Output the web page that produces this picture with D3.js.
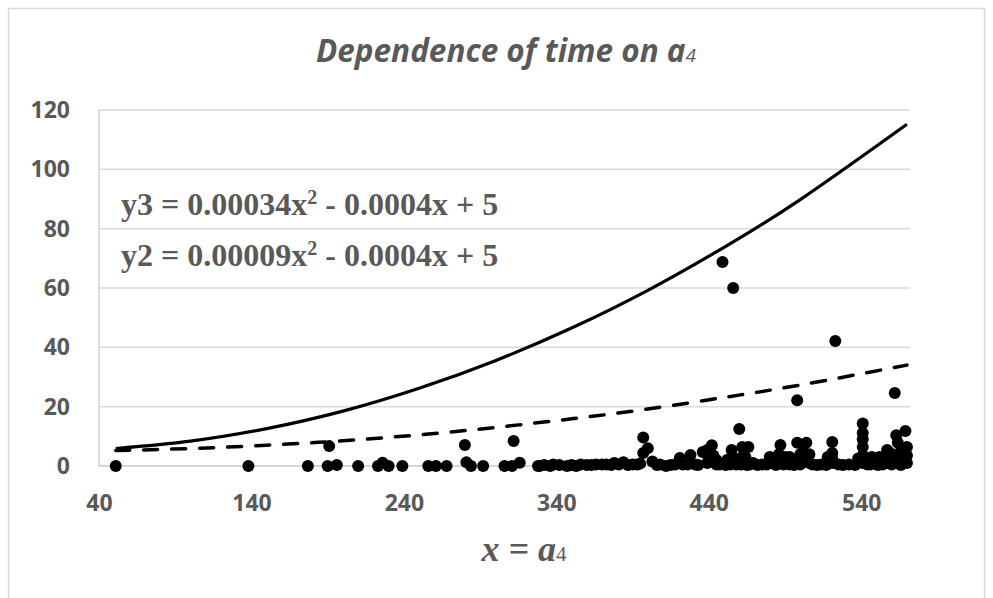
<!DOCTYPE html>
<html>
<head>
<meta charset="utf-8">
<script src="https://cdn.jsdelivr.net/npm/d3@7"></script>
<style>
  body { margin: 0; background: #fff; }
  svg { display: block; }
</style>
</head>
<body>
<script>
'use strict'

// tick labels
const xTicks = [40, 140, 240, 340, 440, 540];
const yTicks = [0, 20, 40, 60, 80, 100, 120];

// measured points (a4, time)
const pointX = [51, 138, 177, 190, 196, 191, 210, 223, 226, 230, 239, 256, 261, 268, 280, 281, 284, 292, 306, 311, 316, 312, 328,
  329, 336, 338, 347, 353, 360, 366, 373, 378, 384, 390, 395, 397, 397, 400, 403, 408, 412, 418, 421, 426, 428, 431, 436, 439, 439,
  442, 445, 449, 454, 455, 456, 460, 461, 462, 463, 466, 467, 469, 478, 480, 482, 487, 487, 491, 493, 498, 498, 502, 504, 506, 508,
  521, 521, 521, 523, 541, 541, 541, 541, 541, 546, 548, 554, 557, 557, 559, 562, 563, 564, 569, 570, 570, 568,
  445, 455, 462, 480, 486, 493, 502, 506, 521, 541, 547, 557, 563, 570,
  332, 342, 350, 356, 363, 370, 376, 381, 387, 393, 406, 415, 423, 433, 447, 451, 458, 465, 472, 475, 484, 489, 496, 500,
  511, 514, 517, 525, 528, 532, 536, 544, 551, 560, 566, 440, 443, 452, 457, 464, 483, 490, 495, 500, 518, 538, 552, 566];
const pointY = [0, 0, 0, 0, 0.3, 6.7, 0, 0, 1.1, 0, 0, 0, 0, 0, 7.1, 1.3, 0, 0, 0, 0, 1.1, 8.4, 0,
  0, 0, 0.5, 0, 0, 0.3, 0.5, 0.5, 1, 1.3, 0.5, 0.8, 9.6, 4.4, 6, 1.5, 0.5, 0, 0.5, 2.7, 0.5, 3.7, 0.5, 4.7, 5.4, 1,
  7, 0.5, 68.8, 0.5, 5.4, 60, 12.5, 0.5, 6.4, 1, 6.4, 0.5, 1, 0.5, 1, 1, 7.1, 1, 1.5, 0.5, 22.2, 7.8, 7.1, 7.8, 1, 0.5,
  8.1, 4.4, 1, 42.1, 14.3, 11.1, 6.4, 3.5, 1, 0.5, 1, 0.5, 5.4, 1, 4.4, 24.6, 10.4, 7.8, 11.8, 6.4, 1, 3,
  2, 3, 3, 3, 4, 3, 2, 4, 2.5, 9, 3, 2.5, 2, 3.5,
  0.3, 0.3, 0.3, 0.5, 0.3, 0.5, 0.3, 0.5, 0.3, 0.5, 0.3, 0.3, 0.5, 0.3, 0.5, 0.3, 0.5, 0.3, 0.3, 0.5, 0.3, 0.5, 0.3, 0.5,
  0.3, 0.5, 0.3, 0.5, 0.3, 0.5, 0.3, 0.5, 0.3, 0.5, 0.3, 2.5, 3.5, 2, 2.5, 3, 2.5, 3, 2, 4, 3, 2.5, 3, 5];

// the two fitted curves
const curveX = [51, 100, 150, 200, 250, 300, 350, 400, 450, 500, 570];
const curveY3 = [5.9, 8.4, 12.6, 18.5, 26.2, 35.5, 46.5, 59.2, 73.7, 89.8, 115.2];
const curveY2 = [5.2, 5.9, 7.0, 8.5, 10.5, 13.0, 15.9, 19.2, 23.1, 27.3, 34.0];

const eqNames = ['y3', 'y2'];
const eqA = ['0.00034', '0.00009'];
const eqRest = ' - 0.0004x + 5';

const W = 993, H = 598;
const grey = '#595959';

const svg = d3.select('body').append('svg')
  .attr('width', W)
  .attr('height', H);

// chart border
svg.append('rect')
  .attr('x', 8.5).attr('y', 8.5)
  .attr('width', 976).attr('height', 600)
  .attr('fill', 'none')
  .attr('stroke', '#d9d9d9')
  .attr('stroke-width', 1.5);

const x = d3.scaleLinear().domain([40, 572]).range([99, 910]);
const y = d3.scaleLinear().domain([0, 120]).range([466, 110]);

// gridlines
svg.append('g')
  .selectAll('line')
  .data(yTicks.slice(1))
  .enter()
  .append('line')
  .attr('x1', x(40)).attr('x2', x(572))
  .attr('y1', d => y(d)).attr('y2', d => y(d))
  .attr('stroke', '#d9d9d9')
  .attr('stroke-width', 1.5);

// axis lines
svg.append('line')
  .attr('x1', x(40)).attr('x2', x(40))
  .attr('y1', y(0)).attr('y2', y(120))
  .attr('stroke', '#d0d0d0').attr('stroke-width', 1.5);
svg.append('line')
  .attr('x1', x(40)).attr('x2', x(572))
  .attr('y1', y(0)).attr('y2', y(0))
  .attr('stroke', '#c8c8c8').attr('stroke-width', 1.5);

// tick labels
const yAxis = svg.append('g')
  .attr('transform', 'translate(' + [x(40), 0] + ')')
  .call(d3.axisLeft(y).tickValues(yTicks).tickSize(0).tickPadding(29));
const xAxis = svg.append('g')
  .attr('transform', 'translate(' + [0, y(0)] + ')')
  .call(d3.axisBottom(x).tickValues(xTicks).tickSize(0).tickPadding(29));

[yAxis, xAxis].forEach(a => {
  a.select('.domain').remove();
  a.selectAll('text')
    .attr('fill', grey)
    .style('font-family', '"Open Sans", Lato, sans-serif')
    .style('font-weight', 'bold')
    .style('font-size', '23px');
});

// curves
const line = d3.line()
  .x(d => x(d[0]))
  .y(d => y(d[1]))
  .curve(d3.curveNatural);

svg.append('path')
  .attr('d', line(curveX.map((v, i) => [v, curveY3[i]])))
  .attr('fill', 'none')
  .attr('stroke', '#000')
  .attr('stroke-width', 3.2);

svg.append('path')
  .attr('d', line(curveX.map((v, i) => [v, curveY2[i]])))
  .attr('fill', 'none')
  .attr('stroke', '#000')
  .attr('stroke-width', 3.5)
  .attr('stroke-linecap', 'round')
  .attr('stroke-dasharray', '14,14');

// points
svg.append('g')
  .selectAll('circle')
  .data(pointX.map((v, i) => [v, pointY[i]]))
  .enter()
  .append('circle')
  .attr('cx', d => x(d[0]))
  .attr('cy', d => y(d[1]))
  .attr('r', 6)
  .attr('fill', '#000');

// equations
eqNames.forEach((n, i) => {
  const t = svg.append('text')
    .attr('x', 121)
    .attr('y', 215 + i * 51)
    .attr('fill', grey)
    .style('font-family', '"Liberation Serif", "Times New Roman", serif')
    .style('font-weight', 'bold')
    .style('font-size', '32px');
  t.append('tspan').text(n + ' = ' + eqA[i] + 'x');
  t.append('tspan').attr('dy', -11).style('font-size', '20px').text('2');
  t.append('tspan').attr('dy', 11).text(eqRest);
});

// title
const title = svg.append('text')
  .attr('x', 506)
  .attr('y', 62)
  .attr('text-anchor', 'middle')
  .attr('fill', grey)
  .style('font-family', '"Open Sans", Lato, sans-serif')
  .style('font-style', 'italic')
  .style('font-weight', 'bold')
  .style('font-size', '31.5px');
title.append('tspan').text('Dependence of time on a');
title.append('tspan').style('font-size', '19px').style('font-weight', 'normal').text('4');

// x axis title
const xt = svg.append('text')
  .attr('x', 524)
  .attr('y', 561)
  .attr('text-anchor', 'middle')
  .attr('fill', grey)
  .style('font-family', '"Liberation Serif", "Times New Roman", serif')
  .style('font-weight', 'bold')
  .style('font-size', '36px');
xt.append('tspan').style('font-style', 'italic').text('x = a');
xt.append('tspan').style('font-size', '21px').style('font-weight', 'normal').text('4');
</script>
</body>
</html>
